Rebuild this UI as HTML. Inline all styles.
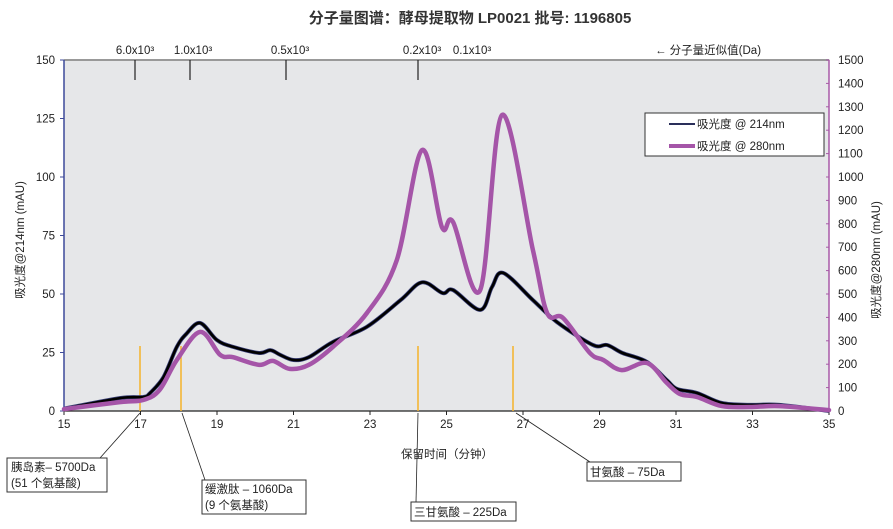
<!DOCTYPE html>
<html><head><meta charset="utf-8"><style>
body{margin:0;background:#fff;}
svg{display:block;font-family:"Liberation Sans","Noto Sans CJK SC",sans-serif;}
</style></head><body>
<svg id="s" width="893" height="529" viewBox="0 0 893 529">
<text x="470" y="23" font-size="15" font-weight="bold" text-anchor="middle" fill="#333">分子量图谱：酵母提取物 LP0021  批号: 1196805</text>
<rect x="64" y="60" width="765" height="351" fill="#e6e7e9" stroke="#999" stroke-width="1"/>
<line x1="64" y1="60" x2="829" y2="60" stroke="#999" stroke-width="2"/>
<line x1="64" y1="60" x2="64" y2="411" stroke="#3d4a9a" stroke-width="1.5"/>
<line x1="829" y1="60" x2="829" y2="411" stroke="#a85aa8" stroke-width="1.5"/>
<line x1="64" y1="411" x2="829" y2="411" stroke="#222" stroke-width="1.2"/>
<g id="ticks" font-size="11.5" fill="#222"></g>
<g stroke="#222" stroke-width="1.2">
<line x1="135" y1="60" x2="135" y2="80"/><line x1="190" y1="60" x2="190" y2="80"/><line x1="286" y1="60" x2="286" y2="80"/><line x1="418" y1="60" x2="418" y2="80"/>
</g>
<g font-size="11.5" fill="#222" text-anchor="middle">
<text x="135" y="54">6.0x10³</text><text x="193" y="54">1.0x10³</text><text x="290" y="54">0.5x10³</text><text x="422" y="54">0.2x10³</text><text x="472" y="54">0.1x10³</text>
<text x="708" y="54">← 分子量近似值(Da)</text>
</g>
<text transform="translate(24,240) rotate(-90)" font-size="11.5" text-anchor="middle" fill="#222">吸光度@214nm (mAU)</text>
<text transform="translate(880,260) rotate(-90)" font-size="11.5" text-anchor="middle" fill="#222">吸光度@280nm (mAU)</text>
<g stroke="#f5b22a" stroke-width="1.5">
<line x1="140" y1="346" x2="140" y2="411"/><line x1="181" y1="346" x2="181" y2="411"/><line x1="418" y1="346" x2="418" y2="411"/><line x1="513" y1="346" x2="513" y2="411"/>
</g>
<path id="p214o" fill="none" stroke="#3a3f78" stroke-width="4" stroke-linejoin="round"/>
<path id="p214" fill="none" stroke="#000" stroke-width="2.6" stroke-linejoin="round"/>
<path id="p280" fill="none" stroke="#a555a8" stroke-width="4.5" stroke-linejoin="round" stroke-linecap="round"/>
<rect x="645" y="113" width="179" height="43" fill="#fff" stroke="#333"/>
<line x1="669" y1="124" x2="695" y2="124" stroke="#2a2f5a" stroke-width="2"/>
<line x1="669" y1="146" x2="695" y2="146" stroke="#a555a8" stroke-width="4"/>
<text x="697" y="128" font-size="11.5" fill="#222">吸光度 @ 214nm</text>
<text x="697" y="150" font-size="11.5" fill="#222">吸光度 @ 280nm</text>
<text x="447" y="458" font-size="11.5" text-anchor="middle" fill="#222">保留时间（分钟）</text>
<g stroke="#222" stroke-width="0.8">
<line x1="100" y1="458" x2="140" y2="413"/><line x1="205" y1="480" x2="182" y2="413"/><line x1="416" y1="502" x2="418" y2="413"/><line x1="590" y1="462" x2="516" y2="413"/>
</g>
<g fill="#fff" stroke="#333">
<rect x="7" y="458" width="100" height="34"/><rect x="202" y="480" width="104" height="34"/><rect x="411" y="502" width="105" height="19"/><rect x="587" y="462" width="94" height="19"/>
</g>
<g font-size="11.5" fill="#222">
<text x="11" y="471">胰岛素– 5700Da</text><text x="11" y="487">(51 个氨基酸)</text>
<text x="205" y="493">缓激肽 – 1060Da</text><text x="205" y="509">(9 个氨基酸)</text>
<text x="414" y="516">三甘氨酸 – 225Da</text>
<text x="590" y="476">甘氨酸  – 75Da</text>
</g>
</svg>
<script>
var X=function(t){return 64+(t-15)*38.25},Y=function(v){return 411-v*2.34};
var g=document.getElementById('ticks'),h='';
for(var v=0;v<=150;v+=25){h+='<text x="55" y="'+(Y(v)+4)+'" text-anchor="end">'+v+'</text><line x1="60" x2="64" y1="'+Y(v)+'" y2="'+Y(v)+'" stroke="#3d4a9a"/>';}
for(var v=0;v<=1500;v+=100){var y=411-v*0.234;h+='<text x="838" y="'+(y+4)+'">'+v+'</text><line x1="826" x2="829" y1="'+y+'" y2="'+y+'" stroke="#a85aa8"/>';}
for(var t=15;t<=35;t+=2){h+='<text x="'+X(t)+'" y="428" text-anchor="middle">'+t+'</text><line x1="'+X(t)+'" x2="'+X(t)+'" y1="411" y2="415" stroke="#222"/>';}
g.innerHTML=h;
function path(a){var p=[];for(var i=0;i<a.length;i+=2)p.push([X(a[i]),Y(a[i+1])]);
var d='M'+p[0][0].toFixed(1)+' '+p[0][1].toFixed(1);
for(var i=0;i<p.length-1;i++){var p0=p[Math.max(i-1,0)],p1=p[i],p2=p[i+1],p3=p[Math.min(i+2,p.length-1)];
var c1=[p1[0]+(p2[0]-p0[0])/6,p1[1]+(p2[1]-p0[1])/6],c2=[p2[0]-(p3[0]-p1[0])/6,p2[1]-(p3[1]-p1[1])/6];
d+='C'+c1[0].toFixed(1)+' '+c1[1].toFixed(1)+' '+c2[0].toFixed(1)+' '+c2[1].toFixed(1)+' '+p2[0].toFixed(1)+' '+p2[1].toFixed(1);}
return d;}
var b=[15,1,16.46,5.5,17.07,6,17.25,7.7,17.6,14.5,17.95,27.4,18.2,33,18.56,37.6,19,30.3,19.42,27.4,20.1,24.8,20.4,26,20.65,24,21,21.8,21.4,23,22.03,29.5,22.92,36,23.8,47.4,24.36,55,24.9,50.4,25.17,51.7,25.88,43.2,26.19,53,26.48,59,27.26,47.4,27.89,38,28.83,28.2,29.2,28.2,29.6,24.8,30.24,21,30.76,13.2,31.03,9.4,31.55,7.7,32.2,3.4,32.93,2.6,33.7,2.6,35,0];
var d=path(b);
document.getElementById('p214').setAttribute('d',d);
document.getElementById('p214o').setAttribute('d',d);
document.getElementById('p280').setAttribute('d',path([15,0.8,16.46,3.8,17.07,4.7,17.5,9,17.95,21.8,18.56,33.8,19.08,24,19.42,23,20.1,19.7,20.46,21.4,20.9,18,21.4,19.7,22.03,27.4,22.92,41.9,23.7,64.5,24.36,111.5,24.88,78.6,25.17,80.8,25.88,51.7,26.45,126.5,27.26,68.8,27.63,41.9,28.05,39.7,28.75,24.8,29.1,21.8,29.58,17.5,30.24,20.5,30.76,12,31.1,7.3,31.55,6,32.2,2.1,32.93,1.7,33.7,2.1,35,0.4]));
</script>
</body></html>
